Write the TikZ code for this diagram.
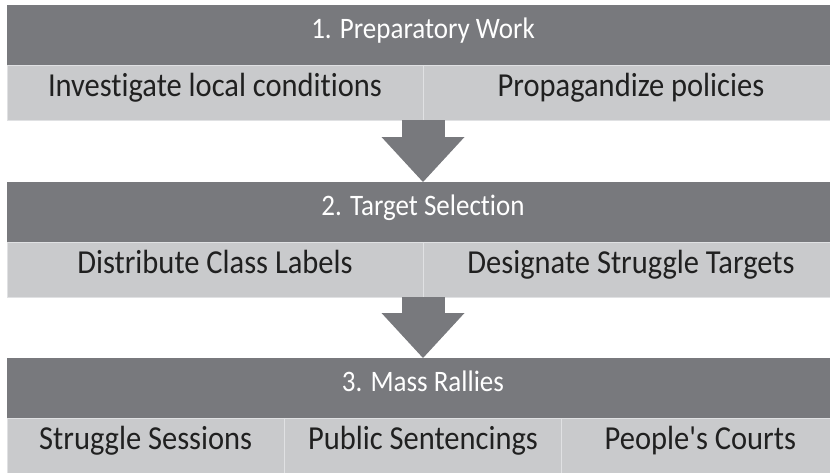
\documentclass[tikz,border=0pt]{standalone}
\usepackage{fontspec}
\setmainfont{Carlito}[Ligatures=NoCommon]
\usetikzlibrary{arrows.meta,positioning}
\definecolor{barGray}{RGB}{120,121,125}
\definecolor{cellGray}{RGB}{201,202,204}
\definecolor{lineGray}{RGB}{224,225,227}
\definecolor{inkGray}{RGB}{32,32,32}
\newcommand{\tallText}[1]{\scalebox{1}[1.1]{#1}}

\begin{document}
\begin{tikzpicture}[x=1pt,y=-1pt,outer sep=0pt,
        hdr/.style={fill=barGray,text=white,anchor=north,minimum width=832pt,minimum height=60pt,
            font=\fontsize{27}{27}\selectfont,text height=0.7em,text depth=0pt},
        cell/.style={fill=cellGray,draw=lineGray,line width=1pt,text=inkGray,anchor=north west,minimum height=55pt,
            font=\fontsize{30.5}{30.5}\selectfont,text height=0.7em,text depth=0pt},
        flow/.style={draw=barGray,line width=43pt,-{Triangle[length=45pt,width=83pt,line width=0pt]}}]
        \useasboundingbox (0,0) rectangle (830,472);

        \node[hdr] (h1) at (423,5) {\tallText{1. Preparatory Work}};
        \node[cell,minimum width=416pt] (s1a) at (h1.south west) {\tallText{Investigate local conditions}};
        \node[cell,minimum width=416pt] (s1b) at (s1a.north east) {\tallText{Propagandize policies}};

        \node[hdr] (h2) at (423,182) {\tallText{2. Target Selection}};
        \node[cell,minimum width=416pt] (s2a) at (h2.south west) {\tallText{Distribute Class Labels}};
        \node[cell,minimum width=416pt] (s2b) at (s2a.north east) {\tallText{Designate Struggle Targets}};

        \node[hdr] (h3) at (423,358) {\tallText{3. Mass Rallies}};
        \node[cell,minimum width=277.33pt] (s3a) at (h3.south west) {\tallText{Struggle Sessions}};
        \node[cell,minimum width=277.33pt] (s3b) at (s3a.north east) {\tallText{Public Sentencings}};
        \node[cell,minimum width=277.33pt] (s3c) at (s3b.north east) {\tallText{People\textquotesingle s Courts}};

        \draw[flow] (s1a.south east) -- (h2.north);
        \draw[flow] (s2a.south east) -- (h3.north);
    \end{tikzpicture}
\end{document}
